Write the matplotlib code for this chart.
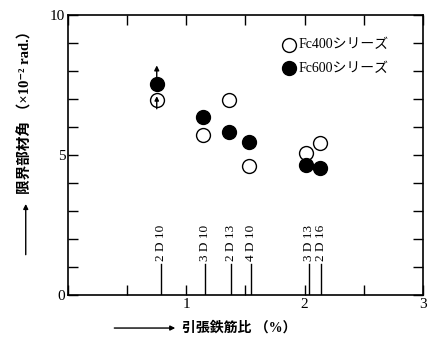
import matplotlib.pyplot as plt
from matplotlib.patches import FancyArrowPatch
import numpy as np

# rebar ratio marks
bar_names = ["2D10", "3D10", "2D13", "4D10", "3D13", "2D16"]
bar_ratio = [0.79, 1.16, 1.38, 1.55, 2.04, 2.14]

# limit member rotation (x10^-2 rad.)
fc400_x = [0.75, 1.14, 1.36, 1.53, 2.01, 2.13]
fc400_y = [6.95, 5.7, 6.95, 4.6, 5.07, 5.43]
fc600_x = [0.75, 1.14, 1.36, 1.53, 2.01, 2.13]
fc600_y = [7.55, 6.35, 5.82, 5.46, 4.64, 4.54]

serif = ['Liberation Serif', 'DejaVu Serif']
jp = ['Liberation Serif', 'Noto Sans CJK JP', 'DejaVu Sans']

fig = plt.figure(figsize=(4.29, 3.41), dpi=100)
ax = fig.add_axes([0.1585, 0.135, 0.8275, 0.821])
ax.set_xlim(0, 3)
ax.set_ylim(0, 10)

for s in ax.spines.values():
    s.set_linewidth(1.2)

ax.plot(fc400_x, fc400_y, 'o', ms=10, mfc='white', mec='black', mew=1.0, ls='none')
ax.plot(fc600_x, fc600_y, 'o', ms=10, mfc='black', mec='black', ls='none')

# arrows: beyond-limit indication at 2D10
ax.annotate('', xy=(fc600_x[0], 8.2), xytext=(fc600_x[0], fc600_y[0]),
            arrowprops=dict(arrowstyle='-|>', color='black', lw=1.0, mutation_scale=7,
                            shrinkA=0, shrinkB=0))
ax.annotate('', xy=(fc400_x[0], fc400_y[0] + 0.15), xytext=(fc400_x[0], fc400_y[0] - 0.3),
            arrowprops=dict(arrowstyle='-|>', color='black', lw=1.0, mutation_scale=6,
                            shrinkA=0, shrinkB=0))

# rebar ratio lines with labels
for name, r in zip(bar_names, bar_ratio):
    ax.plot([r, r], [0, 1.1], color='black', lw=1.0)
    lab = name[0] + " D " + name[2:]
    ax.text(r - 0.005, 1.2, lab, rotation=90, ha='center', va='bottom',
            fontsize=9.5, family=serif)

ax.set_xticks(np.arange(0, 3.01, 0.5))
ax.set_xticklabels(['', '', '1', '', '2', '', '3'])
ax.set_yticks(np.arange(0, 10.1, 1))
ax.set_yticklabels(['0', '', '', '', '', '5', '', '', '', '', '10'])
ax.tick_params(direction='in', top=True, right=True, length=7, width=1.0,
               labelsize=11, pad=2)
for t in ax.get_xticklabels() + ax.get_yticklabels():
    t.set_family(serif)

# legend drawn by hand
ax.plot([1.87], [8.93], 'o', ms=10, mfc='white', mec='black', mew=1.0)
ax.plot([1.87], [8.1], 'o', ms=10, mfc='black', mec='black')
ax.text(1.95, 8.93, "Fc400シリーズ", va='center', ha='left', fontsize=10, family=jp)
ax.text(1.95, 8.1, "Fc600シリーズ", va='center', ha='left', fontsize=10, family=jp)

# axis labels with arrows
fig.text(0.06, 0.68, "限界部材角 （×10⁻² rad.）", rotation=90, ha='center',
         va='center', fontsize=10.5, family=jp, fontweight='bold')
fig.patches.append(FancyArrowPatch(
    (0.06, 0.245), (0.06, 0.41), transform=fig.transFigure, arrowstyle='-|>',
    mutation_scale=7, color='black', lw=1.0))
fig.text(0.425, 0.038, "引張鉄筋比 （%）", ha='left', va='center', fontsize=10,
         family=jp, fontweight='bold')
fig.patches.append(FancyArrowPatch(
    (0.26, 0.038), (0.415, 0.038), transform=fig.transFigure, arrowstyle='-|>',
    mutation_scale=7, color='black', lw=1.0))

fig.savefig('out.png', dpi=100)
